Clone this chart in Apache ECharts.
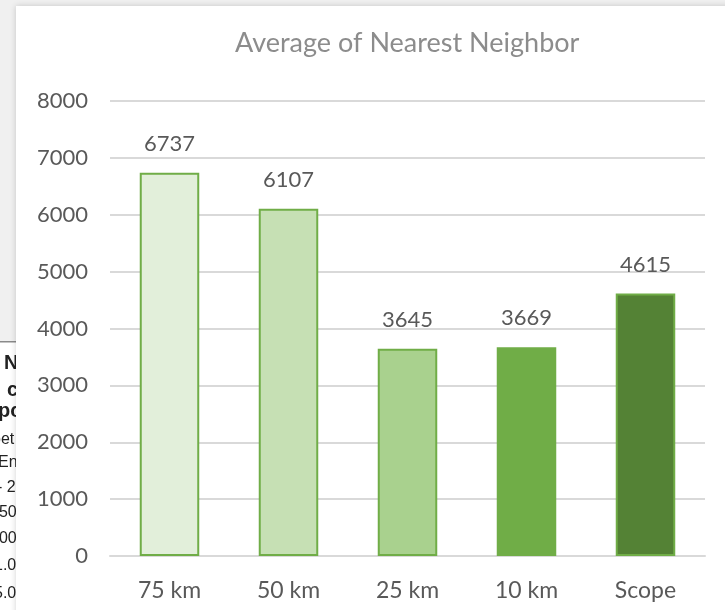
<!DOCTYPE html>
<html>
<head>
<meta charset="utf-8">
<script src="https://cdn.jsdelivr.net/npm/echarts@6/dist/echarts.min.js"></script>
<style>
  html, body { margin: 0; padding: 0; background: #fff; }
  #chart { width: 725px; height: 610px; }
</style>
</head>
<body>
<div id="chart"></div>
<script>
// data
var categories = ["75 km", "50 km", "25 km", "10 km", "Scope"];
var values = [6737, 6107, 3645, 3669, 4615];
var fills = ["#e2efda", "#c6e0b4", "#a9d18e", "#70ad47", "#548235"];
// bits of the spreadsheet peeking out on the left
var sheetText = ["N", "c", "pc", "pet", "En", "- 2", "250", "500", "1.0", "5.0"];
var sheetY = [363, 390, 411, 440, 463, 488, 513, 539, 566, 594];
var sheetX = [4, 7, -2, -8, -2, -3, -10, -10, -6, -6];
var sheetBold = [true, true, true, false, false, false, false, false, false, false];

var font = "Lato, 'Open Sans', sans-serif";
var gray = "#595959";

var sheetBits = sheetText.map(function (t, i) {
  return {
    type: "text", z: -10,
    style: {
      text: t, x: sheetX[i], y: sheetY[i], verticalAlign: "middle",
      font: (sheetBold[i] ? "bold 20px " : "16px ") + "'Liberation Sans', sans-serif",
      fill: "#222"
    }
  };
});

var chart = echarts.init(document.getElementById("chart"));
chart.setOption({
  backgroundColor: "#fff",
  animation: false,
  title: {
    text: "Average of Nearest Neighbor",
    left: 230, top: 25,
    textStyle: { fontFamily: font, fontSize: 27, fontWeight: "normal", color: "#8c8c8c" }
  },
  graphic: [
    { type: "rect", z: -20, shape: { x: 0, y: 0, width: 725, height: 6 }, style: { fill: "#f0f0f0" } },
    { type: "rect", z: -20, shape: { x: 0, y: 0, width: 16, height: 342 }, style: { fill: "#f0f0f0" } },
    { type: "rect", z: -20, shape: { x: 0, y: 341, width: 16, height: 1.5 }, style: { fill: "#8a8a8a" } },
    {
      type: "rect", z: -5,
      shape: { x: 16, y: 6, width: 720, height: 620 },
      style: { fill: "#fff", shadowBlur: 6, shadowColor: "rgba(0,0,0,0.18)" }
    }
  ].concat(sheetBits),
  grid: { left: 110, right: 20, top: 101, bottom: 54 },
  xAxis: {
    type: "category",
    data: categories,
    axisLine: { lineStyle: { color: "#d9d9d9", width: 2 } },
    axisTick: { show: false },
    axisLabel: { margin: 23, fontFamily: font, fontSize: 23, color: gray }
  },
  yAxis: {
    type: "value",
    min: 0, max: 8000, interval: 1000,
    axisLine: { show: false },
    axisTick: { show: false },
    splitLine: { lineStyle: { color: "#d9d9d9", width: 2 } },
    axisLabel: {
      margin: 22, fontFamily: font, fontSize: 22, color: gray,
      formatter: function (v) { return String(v); }
    }
  },
  series: [{
    type: "bar",
    barWidth: "50%",
    data: values.map(function (v, i) {
      return { value: v, itemStyle: { color: fills[i] } };
    }),
    itemStyle: { borderColor: "#70ad47", borderWidth: 2 },
    label: {
      show: true, position: "top", distance: 18,
      fontFamily: font, fontSize: 22, color: gray
    }
  }]
});
</script>
</body>
</html>
